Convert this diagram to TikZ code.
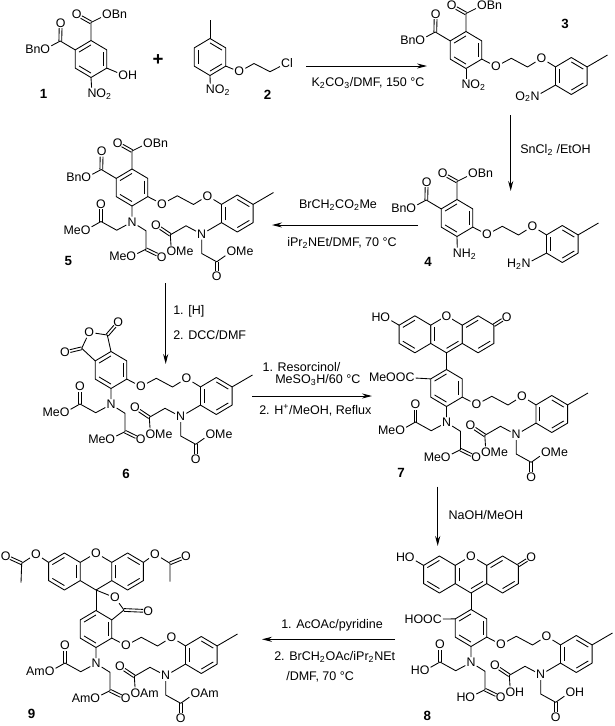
\documentclass[tikz,border=0pt]{standalone}
\usepackage{fontspec}
\setmainfont{Liberation Sans}
\usetikzlibrary{arrows.meta,calc}

\tikzset{
  bond/.style={line width=0.65pt,line join=round},
  rxn/.style={line width=0.75pt,-{Stealth[length=7.5pt,width=3.8pt]}},
  atom/.style={inner sep=0.7pt,font=\fontsize{9.3}{10}\selectfont},
  reagent/.style={inner sep=0pt,font=\fontsize{9.4}{10}\selectfont},
  cpd/.style={inner sep=0pt,font=\fontsize{10}{10}\selectfont\bfseries}
}

% C=O, from a carbon coordinate to an oxygen node
\newcommand{\dblbond}[2]{
  \draw[bond,shorten >=3.9pt] ($(#1)!1.05pt!90:(#2)$) -- ($(#2)!1.05pt!-90:(#1)$);
  \draw[bond,shorten >=3.9pt] ($(#1)!1.05pt!-90:(#2)$) -- ($(#2)!1.05pt!90:(#1)$);
}

% hexagon with inner lines for the double bonds
\newcommand{\hexring}[4]{
  \begin{scope}[shift={(#2,#3)}]
    \coordinate (#1c) at (0,0);
    \coordinate (#1v0) at (0,-18.5);
    \coordinate (#1v1) at (15.8,-9.1);
    \coordinate (#1v2) at (15.8,9.1);
    \coordinate (#1v3) at (0,18.5);
    \coordinate (#1v4) at (-15.8,9.1);
    \coordinate (#1v5) at (-15.8,-9.1);
  \end{scope}
  \draw[bond] (#1v0) -- (#1v1) -- (#1v2) -- (#1v3) -- (#1v4) -- (#1v5) -- cycle;
  \foreach \p/\q in {#4}
    \draw[bond] ($(#1c)!.76!(#1v\p)$) -- ($(#1c)!.76!(#1v\q)$);
}

% two aryl rings joined by the ether chain, ring a at x,y
\newcommand{\ethercore}[3]{
  \begin{scope}[shift={(#2,#3)}]
    \hexring{#1a}{0}{0}{5/0,1/2,3/4}
    \hexring{#1b}{105.3}{26}{0/1,2/3,4/5}
    \node[atom] (#1o1) at (30,16.5) {O};
    \node[atom] (#1o2) at (75.5,8.3) {O};
    \coordinate (#1c1) at (45.3,8.3);
    \coordinate (#1c2) at (61.5,17);
    \coordinate (#1me) at (141.5,5);
  \end{scope}
  \draw[bond] (#1av2) -- (#1o1) -- (#1c1) -- (#1c2) -- (#1o2) -- (#1bv5);
  \draw[bond] (#1bv1) -- (#1me);
}

% the two benzyl esters on a ring
\newcommand{\diester}[3]{
  \begin{scope}[shift={(#2,#3)}]
    \coordinate (#1e1) at (0,-36.5);
    \coordinate (#1e2) at (-30.7,-18);
    \node[atom] (#1k1) at (-14.3,-44.5) {O};
    \node[atom] (#1s1) at (16,-44.5) {O\rlap{Bn}};
    \node[atom] (#1k2) at (-30.3,-36) {O};
    \node[atom] (#1s2) at (-45.7,-10) {\llap{Bn}O};
  \end{scope}
  \draw[bond] (#1v0) -- (#1e1) -- (#1s1);
  \dblbond{#1e1}{#1k1}
  \draw[bond] (#1v5) -- (#1e2) -- (#1s2);
  \dblbond{#1e2}{#1k2}
}

% both N(CH2COOR)2 groups, #4 is the ester group
\newcommand{\tailarms}[4]{
  \begin{scope}[shift={(#2,#3)}]
    \node[atom] (#1n1) at (0,34.5) {N};
    \node[atom] (#1n2) at (69.7,46.7) {N};
    \coordinate (#1a1) at (-15.3,42.7);
    \coordinate (#1a2) at (-31,34);
    \node[atom] (#1ak) at (-31,16.7) {O};
    \node[atom] (#1as) at (-46.4,42.7) {\llap{#4}O};
    \coordinate (#1b1) at (14,43.3);
    \coordinate (#1b2) at (14,61.7);
    \node[atom] (#1bk) at (29.7,69.3) {O};
    \node[atom] (#1bs) at (-0.7,69) {\llap{#4}O};
    \coordinate (#1d1) at (54,38.3);
    \coordinate (#1d2) at (38.3,47.3);
    \node[atom] (#1dk) at (24,37.7) {O};
    \node[atom] (#1ds) at (39.4,64) {O\rlap{#4}};
    \coordinate (#1f1) at (69.7,66);
    \coordinate (#1f2) at (84.7,74.3);
    \node[atom] (#1fk) at (84.7,89) {O};
    \node[atom] (#1fs) at (99.4,64) {O\rlap{#4}};
  \end{scope}
  \draw[bond] (#1av3) -- (#1n1) -- (#1a1) -- (#1a2) -- (#1as);
  \dblbond{#1a2}{#1ak}
  \draw[bond] (#1n1) -- (#1b1) -- (#1b2) -- (#1bs);
  \dblbond{#1b2}{#1bk}
  \draw[bond] (#1bv4) -- (#1n2) -- (#1d1) -- (#1d2) -- (#1ds);
  \dblbond{#1d2}{#1dk}
  \draw[bond] (#1n2) -- (#1f1) -- (#1f2) -- (#1fs);
  \dblbond{#1f2}{#1fk}
}

% hydroxy xanthenone on top of ring a
\newcommand{\xanthenone}[3]{
  \begin{scope}[shift={(#2,#3)}]
    \hexring{#1l}{-31.6}{0}{5/0,3/4}
    \hexring{#1m}{0}{0}{4/5,2/3}
    \hexring{#1r}{31.6}{0}{5/0,2/3}
    \node[atom,fill=white] (#1o) at (#1mv0) {O};
    \node[atom] (#1h) at (-61.2,-17.2) {\llap{H}O};
    \node[atom] (#1k) at (60.2,-17.2) {O};
  \end{scope}
  \draw[bond] (#1lv5) -- (#1h);
  \dblbond{#1rv1}{#1k}
  \draw[bond] (#1mv3) -- (#1av0);
}

\begin{document}
\begin{tikzpicture}[x=0.75pt,y=-0.75pt]
  \useasboundingbox (0,0) rectangle (615,726);

  % Compound 1
  \hexring{c1a}{91}{59}{5/0,1/2,3/4}
  \diester{c1a}{91}{59}
  \node[atom] (c1oh) at (123.2,75) {O\rlap{H}};
  \node[atom] (c1n) at (92,94) {N\rlap{O\textsubscript{2}}};
  \draw[bond] (c1av2) -- (c1oh);
  \draw[bond] (c1av3) -- (c1n);
  \node[cpd] (cpd1) at (43.5,94) {1};

  \node[inner sep=0pt,font=\fontsize{14}{14}\selectfont\bfseries] (plus) at (158,60) {+};

  % Compound 2
  \hexring{c2a}{210}{57}{0/1,2/3,4/5}
  \coordinate (c2me) at (210,19.5);
  \node[atom] (c2o) at (239.3,71.7) {O};
  \coordinate (c2c1) at (254,63.5);
  \coordinate (c2c2) at (270,71.7);
  \node[atom] (c2cl) at (287,63) {Cl};
  \node[atom] (c2n) at (210.4,90) {N\rlap{O\textsubscript{2}}};
  \draw[bond] (c2av0) -- (c2me);
  \draw[bond] (c2av2) -- (c2o) -- (c2c1) -- (c2c2) -- (c2cl);
  \draw[bond] (c2av3) -- (c2n);
  \node[cpd] (cpd2) at (267.7,95) {2};

  % Step 1 to 3
  \coordinate (s13a) at (306,66);
  \coordinate (s13b) at (427,66);
  \draw[rxn] (s13a) -- (s13b);
  \node[reagent] (r13) at (368,83) {K\textsubscript{2}CO\textsubscript{3}/DMF, 150 °C};

  % Compound 3
  \ethercore{c3}{466}{50}
  \diester{c3a}{466}{50}
  \node[atom] (c3n1) at (466,85) {N\rlap{O\textsubscript{2}}};
  \node[atom] (c3n2) at (535,96.7) {\llap{O\textsubscript{2}}N};
  \draw[bond] (c3av3) -- (c3n1);
  \draw[bond] (c3bv4) -- (c3n2);
  \node[cpd] (cpd3) at (565,24) {3};

  % Step 3 to 4
  \coordinate (s34a) at (510.7,115);
  \coordinate (s34b) at (510.7,191);
  \draw[rxn] (s34a) -- (s34b);
  \node[reagent] (r34) at (555.5,150) {SnCl\textsubscript{2} /EtOH};

  % Compound 4
  \ethercore{c4}{457}{218}
  \diester{c4a}{457}{218}
  \node[atom] (c4n1) at (457.4,254) {N\rlap{H\textsubscript{2}}};
  \node[atom] (c4n2) at (526,264) {\llap{H\textsubscript{2}}N};
  \draw[bond] (c4av3) -- (c4n1);
  \draw[bond] (c4bv4) -- (c4n2);
  \node[cpd] (cpd4) at (428,262) {4};

  % Step 4 to 5
  \coordinate (s45a) at (418,225);
  \coordinate (s45b) at (272,225);
  \draw[rxn] (s45a) -- (s45b);
  \node[reagent] (r45a) at (338,205) {BrCH\textsubscript{2}CO\textsubscript{2}Me};
  \node[reagent] (r45b) at (342,243) {iPr\textsubscript{2}NEt/DMF, 70 °C};

  % Compound 5
  \ethercore{c5}{132}{187.5}
  \diester{c5a}{132}{187.5}
  \tailarms{c5}{132}{187.5}{Me}
  \node[cpd] (cpd5) at (68.3,260.7) {5};

  % Step 5 to 6
  \coordinate (s56a) at (165.7,283);
  \coordinate (s56b) at (165.7,364);
  \draw[rxn] (s56a) -- (s56b);
  \node[reagent,anchor=west] (r56a) at (173,311.7) {1. [H]};
  \node[reagent,anchor=west] (r56b) at (173,335) {2. DCC/DMF};

  % Compound 6
  \ethercore{c6}{111}{370}
  \tailarms{c6}{111}{370}{Me}
  \coordinate (c6k1) at (107.3,335);
  \coordinate (c6k2) at (81.7,348.3);
  \node[atom] (c6o1) at (118.3,322.3) {O};
  \node[atom] (c6o2) at (89.3,332.3) {O};
  \node[atom] (c6o3) at (65,352.3) {O};
  \draw[bond] (c6av0) -- (c6k1) -- (c6o2) -- (c6k2) -- (c6av5);
  \dblbond{c6k1}{c6o1}
  \dblbond{c6k2}{c6o3}
  \node[cpd] (cpd6) at (126,474) {6};

  % Step 6 to 7
  \coordinate (s67a) at (252,396);
  \coordinate (s67b) at (372,396);
  \draw[rxn] (s67a) -- (s67b);
  \node[reagent,anchor=west] (r67a) at (262.3,367.3) {1. Resorcinol/};
  \node[reagent,anchor=west] (r67b) at (275,380) {MeSO\textsubscript{3}H/60 °C};
  \node[reagent,anchor=west] (r67c) at (259,410) {2. H\textsuperscript{+}/MeOH, Reflux};

  % Compound 7
  \ethercore{c7}{446.5}{388}
  \tailarms{c7}{446.5}{388}{Me}
  \xanthenone{c7}{446.5}{334.3}
  \node[atom] (c7e) at (410,377.7) {\llap{MeOO}C};
  \draw[bond] (c7av5) -- (c7e);
  \node[cpd] (cpd7) at (401,473) {7};

  % Step 7 to 8
  \coordinate (s78a) at (437.7,486.7);
  \coordinate (s78b) at (437.7,546);
  \draw[rxn] (s78a) -- (s78b);
  \node[reagent,anchor=west] (r78) at (448.3,515) {NaOH/MeOH};

  % Compound 8
  \ethercore{c8}{471}{628}
  \tailarms{c8}{471}{628}{H}
  \xanthenone{c8}{471}{574.5}
  \node[atom] (c8e) at (437.3,619) {\llap{HOO}C};
  \draw[bond] (c8av5) -- (c8e);
  \node[cpd] (cpd8) at (427.3,715.7) {8};

  % Step 8 to 9
  \coordinate (s89a) at (395,639.3);
  \coordinate (s89b) at (262,639.3);
  \draw[rxn] (s89a) -- (s89b);
  \node[reagent,anchor=west] (r89a) at (281,625) {1. AcOAc/pyridine};
  \node[reagent,anchor=west] (r89b) at (274,656.7) {2. BrCH\textsubscript{2}OAc/iPr\textsubscript{2}NEt};
  \node[reagent,anchor=west] (r89c) at (286,676.7) {/DMF, 70 °C};

  % Compound 9
  \ethercore{c9}{96}{629}
  \tailarms{c9}{96}{629}{Am}
  \hexring{c9l}{64.4}{571.5}{5/0,3/4,1/2}
  \hexring{c9r}{127.6}{571.5}{0/1,2/3,4/5}
  \node[atom] (c9xo) at (96,553) {O};
  \coordinate (c9sp) at (96,590);
  \draw[bond] (c9lv1) -- (c9xo) -- (c9rv5);
  \draw[bond] (c9lv2) -- (c9sp) -- (c9rv4);
  \draw[bond] (c9sp) -- (c9av0);
  % lactone
  \node[atom] (c9lo) at (115,597.7) {O};
  \coordinate (c9lk) at (124,610);
  \node[atom] (c9lk2) at (148.3,611) {O};
  \draw[bond] (c9sp) -- (c9lo) -- (c9lk) -- (c9av1);
  \dblbond{c9lk}{c9lk2}
  % acetates
  \node[atom] (c9o1) at (36,554) {O};
  \coordinate (c9k1) at (21.7,563.3);
  \node[atom] (c9o2) at (5.7,556) {O};
  \coordinate (c9m1) at (21,582.7);
  \draw[bond] (c9lv5) -- (c9o1) -- (c9k1) -- (c9m1);
  \dblbond{c9k1}{c9o2}
  \node[atom] (c9o3) at (155,554) {O};
  \coordinate (c9k2) at (170,563.3);
  \node[atom] (c9o4) at (186,556.7) {O};
  \coordinate (c9m2) at (170,581.7);
  \draw[bond] (c9rv1) -- (c9o3) -- (c9k2) -- (c9m2);
  \dblbond{c9k2}{c9o4}
  \node[cpd] (cpd9) at (31.7,714) {9};
\end{tikzpicture}
\end{document}
